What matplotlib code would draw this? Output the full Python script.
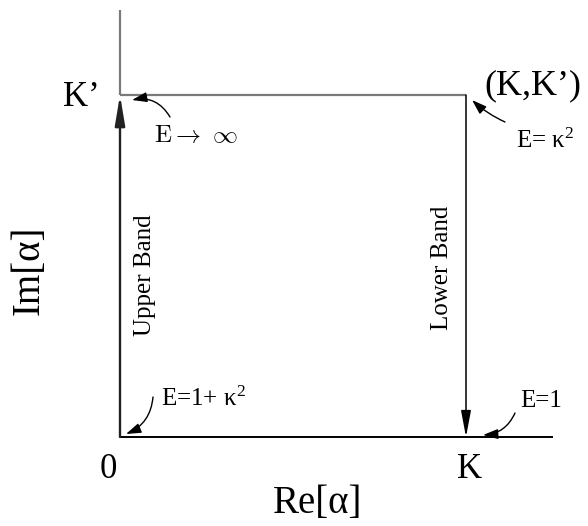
import matplotlib
matplotlib.use("Agg")
import matplotlib.pyplot as plt

# ---- data ----
K = 1.0          # Re[alpha] end point
Kp = 1.0         # Im[alpha] end point
x_ticks = [0.0, K]
x_tick_labels = ["0", "K"]
y_ticks = [Kp]
y_tick_labels = ["K\u2019"]
corner_label = "(K,K\u2019)"
band_labels = ["Upper Band", "Lower Band"]
energy_labels = [r"$\mathrm{E}\rightarrow\ \infty$", r"E= $\mathrm{\kappa}^{2}$",
                 r"E=1+ $\mathrm{\kappa}^{2}$", "E=1"]
energy_points = [(0.0, Kp), (K, Kp), (0.0, 0.0), (K, 0.0)]

plt.rcParams["font.family"] = ["Liberation Serif", "DejaVu Serif"]
plt.rcParams["mathtext.fontset"] = "custom"
plt.rcParams["mathtext.rm"] = "Liberation Serif"
plt.rcParams["mathtext.it"] = "Liberation Serif:italic"

W, H = 588, 526
fig = plt.figure(figsize=(W / 100, H / 100), dpi=100)
ox, oy = 120, 437          # origin pixel
sx, sy = 346, 342          # pixels per unit
xmax = (553 - ox) / sx
ymax = (oy - 10) / sy
ax = fig.add_axes([ox / W, (H - oy) / H, (553 - ox) / W, (oy - 10) / H])
ax.set_xlim(0, xmax)
ax.set_ylim(0, ymax)
ax.axis("off")


def P(xp, yp):
    """reference pixel -> data coordinates (layout helper)"""
    return ((xp - ox) / sx, (oy - yp) / sy)


# axes lines
ax.plot([0, xmax], [0, 0], color="black", lw=1.4, clip_on=False, solid_capstyle="butt")
ax.plot([0, 0], [Kp, ymax], color="#7a7a7a", lw=1.6, clip_on=False, solid_capstyle="butt")
ax.plot([0, K], [Kp, Kp], color="#7a7a7a", lw=1.6, clip_on=False, solid_capstyle="butt")

# path arrows
ax.annotate("", xy=(0, Kp), xytext=(0, 0),
            arrowprops=dict(arrowstyle="-|>,head_length=1.8,head_width=0.3",
                            color="#222222", lw=1.7, shrinkA=0, shrinkB=0,
                            mutation_scale=10))
ax.annotate("", xy=(K, 0), xytext=(K, Kp),
            arrowprops=dict(arrowstyle="-|>,head_length=1.6,head_width=0.3",
                            color="black", lw=1.1, shrinkA=0, shrinkB=0,
                            mutation_scale=10))

# tick-like labels
ax.text(*P(108, 470), x_tick_labels[0], fontsize=25, ha="center", va="center")
ax.text(*P(470, 470), x_tick_labels[1], fontsize=25, ha="center", va="center")
ax.text(*P(81, 98), y_tick_labels[0], fontsize=25, ha="center", va="center")
ax.text(*P(533, 86), corner_label, fontsize=26, ha="center", va="center")

# axis titles
ax.text(*P(318, 503), "Re[\u03b1]", fontsize=28, ha="center", va="center")
ax.text(*P(29, 270), "Im[\u03b1]", fontsize=28, ha="center", va="center", rotation=90)

# band labels
ax.text(*P(145, 275), band_labels[0], fontsize=18, ha="center", va="center", rotation=90)
ax.text(*P(442, 268), band_labels[1], fontsize=18, ha="center", va="center", rotation=90)

# energy annotations
text_pos = [P(196, 136), P(545, 141), P(203, 399), P(541, 401)]
arrow_tail = [P(170, 117), P(505, 122), P(153, 397), P(515, 413)]
arrow_head = [P(132, 100), P(472, 100), P(126, 434), P(483, 435)]
rads = [0.35, -0.08, -0.3, -0.3]
for lab, tp, at, ah, r in zip(energy_labels, text_pos, arrow_tail, arrow_head, rads):
    kw = {}
    if lab.startswith(r"$\mathrm{E}\rightarrow"):
        kw["math_fontfamily"] = "cm"
    ax.text(*tp, lab, fontsize=18, ha="center", va="center", **kw)
    ax.annotate("", xy=ah, xytext=at,
                arrowprops=dict(arrowstyle="-|>,head_length=0.9,head_width=0.3",
                                color="black", lw=1.0, shrinkA=0, shrinkB=0,
                                mutation_scale=10,
                                connectionstyle=f"arc3,rad={r}"))

fig.savefig("out.png", dpi=100)
